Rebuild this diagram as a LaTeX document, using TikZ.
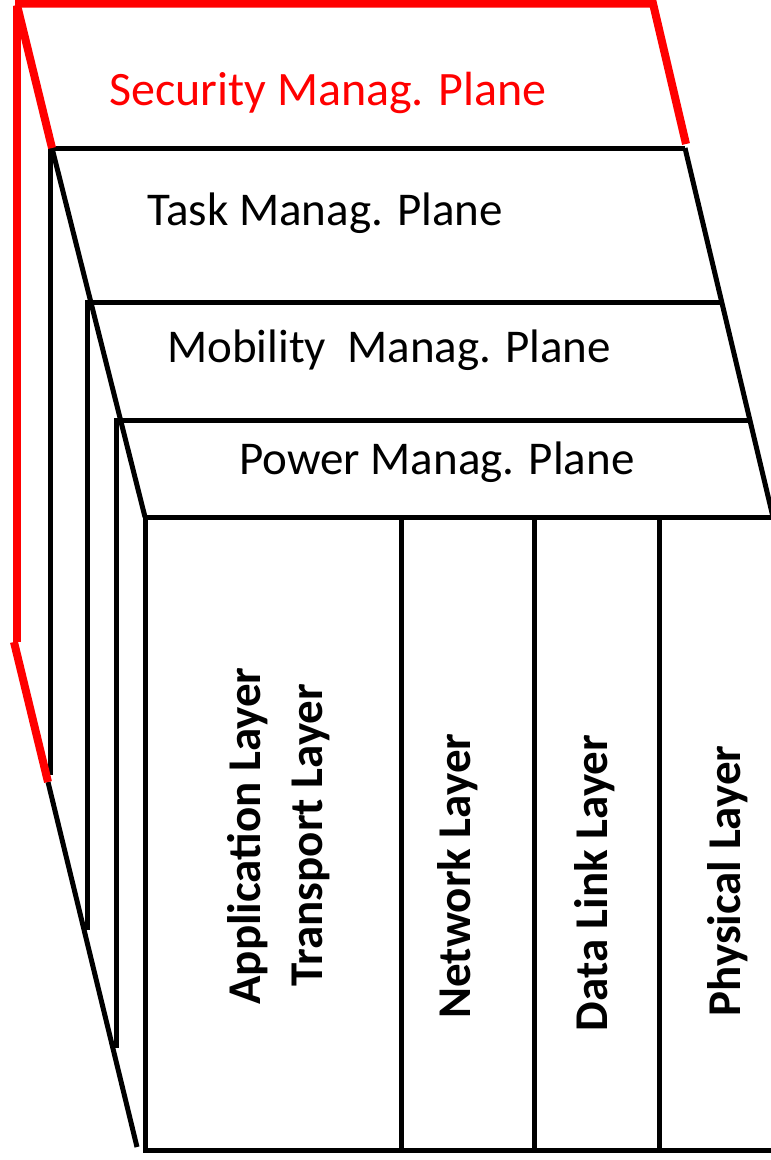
\documentclass[tikz,border=0pt]{standalone}
\usepackage{fontspec}
\setmainfont{Carlito}
\begin{document}
\begin{tikzpicture}[x=1pt,y=-1pt,
  edge/.style={line width=5pt, line join=miter},
  redge/.style={line width=8pt, draw=red, line join=miter},
  plane/.style={font=\fontsize{47}{56}\selectfont, inner sep=0pt, anchor=base west},
  layer/.style={font=\bfseries\fontsize{47}{56}\selectfont, inner sep=0pt, anchor=base, rotate=90}]
\useasboundingbox (0,0) rectangle (771,1160);
\clip (0,0) rectangle (771,1160);

% outer slanted edges of the stack
\coordinate (ulA) at (52,148);
\coordinate (ulB) at (145,517);
\coordinate (llA) at (48,782);
\coordinate (llB) at (137,1147);
\coordinate (rA) at (685,148);
\coordinate (rB) at (773,517);

% plane edges: left vertical side plus top edge
\draw[edge] (50,775) -- (50,148) -- (rA);
\draw[edge] (87,930) -- (87,302) -- (722,302);
\draw[edge] (116,1048) -- (116,420) -- (750,420);

\draw[edge] (ulA) -- (ulB);
\draw[edge] (llA) -- (llB);
\draw[edge] (rA) -- (rB);

% protocol layer box
\draw[edge] (145,1150) -- (ulB) -- (rB);
\draw[edge] (143,1150) -- (773,1150);
\foreach \x in {401,534,659} \draw[edge] (\x,517) -- (\x,1150);

% security plane outline
\draw[redge] (16.5,642) -- (16.5,6);
\draw[redge] (15,3.5) -- (653,3.5) -- (686,144);
\draw[redge] (17,5) -- (ulA);
\draw[redge] (14,642) -- (llA);

% plane labels
\node[plane, text=red, font=\fontsize{48}{56}\selectfont] (sec) at (109,105) {Security Manag. Plane};
\node[plane] (task) at (147,225) {Task Manag. Plane};
\node[plane] (mob) at (167,362) {Mobility\ \ Manag. Plane};
\node[plane] (pow) at (239,474) {Power Manag. Plane};

% layer labels
\node[layer] (app) at (260,836) {Application Layer};
\node[layer] (trans) at (322,835) {Transport Layer};
\node[layer] (net) at (470,876) {Network Layer};
\node[layer] (dll) at (607,883) {Data Link Layer};
\node[layer] (phy) at (740,881) {Physical Layer};
\end{tikzpicture}
\end{document}
